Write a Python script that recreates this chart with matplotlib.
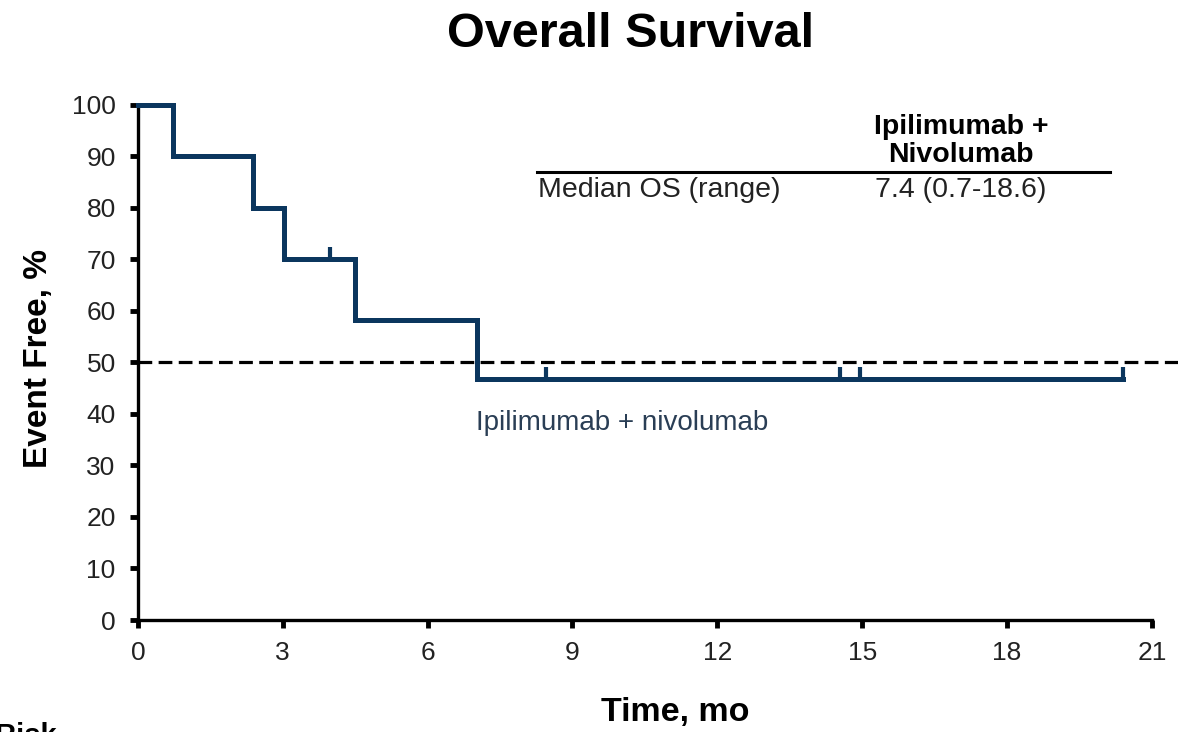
'''Overall survival Kaplan-Meier curve, ipilimumab + nivolumab.'''
import matplotlib
matplotlib.use("Agg")
import matplotlib.pyplot as plt

plt.rcParams['font.family'] = ['Liberation Sans', 'DejaVu Sans']

# step curve: event times and survival after each step (%)
step_times = [0, 0.72, 2.38, 3.03, 4.5, 7.02]
step_surv = [100, 90, 80, 70, 58.3, 46.7]
last_time = 20.4

# censored observations (months)
censor_times = [3.97, 8.45, 14.55, 14.95, 20.4]

x_ticks = [0, 3, 6, 9, 12, 15, 18, 21]
y_ticks = [0, 10, 20, 30, 40, 50, 60, 70, 80, 90, 100]

CURVE = '#0b365e'


def surv_at(t):
    '''Survival value on the curve at time t.'''
    val = step_surv[0]
    for tt, ss in zip(step_times, step_surv):
        if t >= tt:
            val = ss
    return val


fig = plt.figure(figsize=(11.78, 7.32), dpi=100)
ax = fig.add_axes([0.1171, 0.153, 0.8607, 0.704])

# curve
xs = step_times + [last_time]
ys = step_surv + [step_surv[-1]]
ax.step(xs, ys, where='post', color=CURVE, lw=3.6, solid_joinstyle='miter',
        clip_on=False, zorder=4)

# censor ticks
for ct in censor_times:
    s = surv_at(ct)
    ax.plot([ct, ct], [s, s + 2.3], color=CURVE, lw=3.0, clip_on=False,
            solid_capstyle='butt', zorder=4)

# median reference line
ax.plot([0, 21.6], [50, 50], color='black', lw=2.3, ls=(0, (4.3, 2)),
        clip_on=False, zorder=3)

ax.set_xlim(0, 21)
ax.set_ylim(0, 100)
ax.set_xticks(x_ticks)
ax.set_yticks(y_ticks)
ax.tick_params(axis='both', direction='out', length=6, width=3.5,
               labelsize=19, colors='black', labelcolor='#222222')
ax.tick_params(axis='x', pad=9)
ax.tick_params(axis='y', pad=10)
for side in ['top', 'right']:
    ax.spines[side].set_visible(False)
for side in ['left', 'bottom']:
    ax.spines[side].set_linewidth(2.4)

fig.text(0.573, 1 - 712 / 732, 'Time, mo', fontsize=24.5, fontweight='bold',
         ha='center', va='center')
fig.text(39 / 1178, 1 - 358 / 732, 'Event Free, %', fontsize=24,
         fontweight='bold', ha='center', va='center', rotation=90)
fig.text(0.535, 0.953, 'Overall Survival', fontsize=35, fontweight='bold',
         ha='center', va='center')

# curve label
ax.text(7.0, 38.2, 'Ipilimumab + nivolumab', fontsize=20, color='#2a3e55',
        ha='left', va='center')

# median table
fig.text(961 / 1178, 1 - 141 / 732, 'Ipilimumab +\nNivolumab', fontsize=20.5,
         fontweight='bold', ha='center', va='center', linespacing=1.15)
fig.add_artist(plt.Line2D([537 / 1178, 1110 / 1178], [1 - 172 / 732, 1 - 172 / 732],
                          color='black', lw=2.2))
fig.text(538 / 1178, 1 - 190 / 732, 'Median OS (range)', fontsize=20.5,
         ha='left', va='center', color='#222222')
fig.text(961 / 1178, 1 - 190 / 732, '7.4 (0.7-18.6)', fontsize=20.5,
         ha='center', va='center', color='#222222')

# at-risk header, cut off at figure bottom as in the source slide
fig.text(-0.004, 0.0137, 'Risk', fontsize=21, fontweight='bold',
         ha='left', va='top')

fig.savefig('out.png', dpi=100)
